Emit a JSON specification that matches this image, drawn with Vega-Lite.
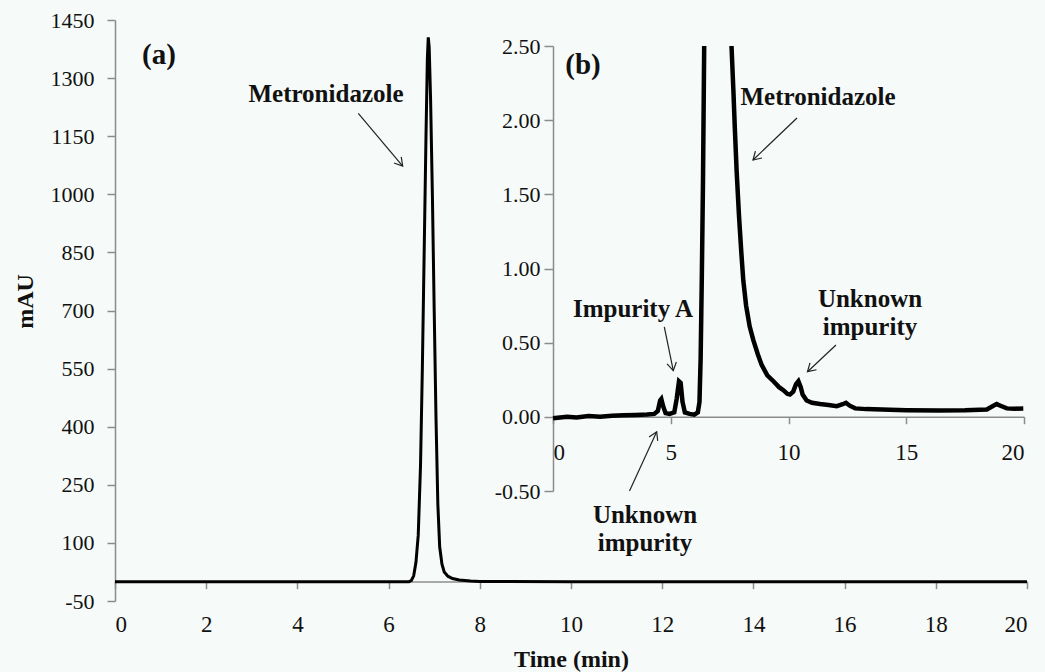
{
  "$schema": "https://vega.github.io/schema/vega-lite/v6.json",
  "width": 912,
  "height": 581,
  "autosize": {"type": "none"},
  "padding": {"left": 115, "top": 20, "right": 18, "bottom": 71},
  "background": "#f6faf8",
  "config": {
    "view": {"stroke": null},
    "font": "Liberation Serif",
    "axis": {
      "grid": false,
      "domainColor": "#8c8c8c",
      "tickColor": "#8c8c8c",
      "domainWidth": 1.5,
      "tickWidth": 1.5,
      "labelFont": "Liberation Serif",
      "labelColor": "#111111",
      "labelFontSize": 22,
      "titleFont": "Liberation Serif",
      "titleFontWeight": "bold",
      "titleFontSize": 24,
      "titleColor": "#111111"
    }
  },
  "datasets": {
    "main": [
      {"t": 0, "v": 0}, {"t": 1, "v": 0}, {"t": 2, "v": 0}, {"t": 3, "v": 0}, {"t": 4, "v": 0},
      {"t": 5, "v": 0}, {"t": 6, "v": 0}, {"t": 6.3, "v": 0}, {"t": 6.45, "v": 0},
      {"t": 6.5, "v": 3}, {"t": 6.55, "v": 15}, {"t": 6.6, "v": 50}, {"t": 6.65, "v": 120},
      {"t": 6.7, "v": 300}, {"t": 6.74, "v": 550}, {"t": 6.78, "v": 850}, {"t": 6.82, "v": 1150},
      {"t": 6.85, "v": 1350}, {"t": 6.87, "v": 1405}, {"t": 6.89, "v": 1380}, {"t": 6.92, "v": 1250},
      {"t": 6.96, "v": 1000}, {"t": 7.0, "v": 700}, {"t": 7.04, "v": 420}, {"t": 7.08, "v": 200},
      {"t": 7.12, "v": 90}, {"t": 7.17, "v": 45}, {"t": 7.22, "v": 25}, {"t": 7.3, "v": 14},
      {"t": 7.4, "v": 8}, {"t": 7.55, "v": 4}, {"t": 7.8, "v": 1.5}, {"t": 8.0, "v": 0.5},
      {"t": 10, "v": 0}, {"t": 12, "v": 0}, {"t": 14, "v": 0}, {"t": 16, "v": 0}, {"t": 18, "v": 0}, {"t": 20, "v": 0}
    ],
    "inset": [
      {"t": 0, "v": -0.01, "seg": 1}, {"t": 0.3, "v": -0.005, "seg": 1}, {"t": 0.6, "v": 0.0, "seg": 1},
      {"t": 1.0, "v": -0.005, "seg": 1}, {"t": 1.5, "v": 0.005, "seg": 1}, {"t": 2.0, "v": 0.0, "seg": 1},
      {"t": 2.5, "v": 0.008, "seg": 1}, {"t": 3.0, "v": 0.01, "seg": 1}, {"t": 3.5, "v": 0.012, "seg": 1},
      {"t": 4.0, "v": 0.015, "seg": 1}, {"t": 4.3, "v": 0.02, "seg": 1}, {"t": 4.45, "v": 0.04, "seg": 1},
      {"t": 4.55, "v": 0.11, "seg": 1}, {"t": 4.6, "v": 0.12, "seg": 1}, {"t": 4.68, "v": 0.07, "seg": 1},
      {"t": 4.78, "v": 0.025, "seg": 1}, {"t": 4.95, "v": 0.02, "seg": 1}, {"t": 5.15, "v": 0.03, "seg": 1},
      {"t": 5.25, "v": 0.12, "seg": 1}, {"t": 5.35, "v": 0.24, "seg": 1}, {"t": 5.42, "v": 0.23, "seg": 1},
      {"t": 5.5, "v": 0.1, "seg": 1}, {"t": 5.6, "v": 0.03, "seg": 1}, {"t": 5.8, "v": 0.02, "seg": 1},
      {"t": 6.0, "v": 0.015, "seg": 1}, {"t": 6.15, "v": 0.03, "seg": 1}, {"t": 6.22, "v": 0.1, "seg": 1},
      {"t": 6.27, "v": 0.4, "seg": 1}, {"t": 6.32, "v": 0.95, "seg": 1}, {"t": 6.37, "v": 1.6, "seg": 1},
      {"t": 6.42, "v": 2.5, "seg": 1},
      {"t": 7.58, "v": 2.5, "seg": 2}, {"t": 7.66, "v": 2.2, "seg": 2}, {"t": 7.72, "v": 1.95, "seg": 2},
      {"t": 7.8, "v": 1.65, "seg": 2}, {"t": 7.9, "v": 1.35, "seg": 2}, {"t": 8.0, "v": 1.1, "seg": 2},
      {"t": 8.08, "v": 0.92, "seg": 2}, {"t": 8.2, "v": 0.75, "seg": 2}, {"t": 8.35, "v": 0.61, "seg": 2},
      {"t": 8.5, "v": 0.52, "seg": 2}, {"t": 8.7, "v": 0.42, "seg": 2}, {"t": 8.86, "v": 0.35, "seg": 2},
      {"t": 9.1, "v": 0.28, "seg": 2}, {"t": 9.36, "v": 0.24, "seg": 2}, {"t": 9.6, "v": 0.2, "seg": 2},
      {"t": 9.78, "v": 0.18, "seg": 2}, {"t": 9.95, "v": 0.155, "seg": 2}, {"t": 10.06, "v": 0.15, "seg": 2},
      {"t": 10.2, "v": 0.17, "seg": 2}, {"t": 10.32, "v": 0.22, "seg": 2}, {"t": 10.42, "v": 0.24, "seg": 2},
      {"t": 10.52, "v": 0.2, "seg": 2}, {"t": 10.6, "v": 0.15, "seg": 2}, {"t": 10.77, "v": 0.11, "seg": 2},
      {"t": 11.0, "v": 0.095, "seg": 2}, {"t": 11.34, "v": 0.086, "seg": 2}, {"t": 11.7, "v": 0.08, "seg": 2},
      {"t": 12.05, "v": 0.072, "seg": 2}, {"t": 12.3, "v": 0.085, "seg": 2}, {"t": 12.44, "v": 0.095, "seg": 2},
      {"t": 12.6, "v": 0.075, "seg": 2}, {"t": 12.83, "v": 0.057, "seg": 2}, {"t": 13.3, "v": 0.052, "seg": 2},
      {"t": 14.3, "v": 0.047, "seg": 2}, {"t": 15.0, "v": 0.045, "seg": 2}, {"t": 16.43, "v": 0.043, "seg": 2},
      {"t": 17.5, "v": 0.045, "seg": 2}, {"t": 18.42, "v": 0.05, "seg": 2}, {"t": 18.7, "v": 0.075, "seg": 2},
      {"t": 18.84, "v": 0.086, "seg": 2}, {"t": 19.0, "v": 0.075, "seg": 2}, {"t": 19.27, "v": 0.057, "seg": 2},
      {"t": 19.6, "v": 0.055, "seg": 2}, {"t": 19.97, "v": 0.057, "seg": 2}
    ],
    "labels": [
      {"t": 0.965, "v": 1359.6, "text": "(a)", "kind": "panel"},
      {"t": 10.263, "v": 1333.8, "text": "(b)", "kind": "panel"},
      {"t": 4.627, "v": 1259, "text": "Metronidazole", "kind": "note"},
      {"t": 15.417, "v": 1251, "text": "Metronidazole", "kind": "note"},
      {"t": 11.36, "v": 705, "text": "Impurity A", "kind": "note"},
      {"t": 11.623, "v": 172, "text": "Unknown\nimpurity", "kind": "note"},
      {"t": 16.557, "v": 729.6, "text": "Unknown\nimpurity", "kind": "note"}
    ],
    "arrows": [
      {"t": 5.335, "v": 1209.1, "t2": 6.309, "v2": 1073, "ang": 49.9},
      {"t": 14.956, "v": 1197, "t2": 13.991, "v2": 1088.5, "ang": 136.3},
      {"t": 12.046, "v": 658, "t2": 12.243, "v2": 544.5, "ang": 78.4},
      {"t": 11.283, "v": 234, "t2": 11.879, "v2": 387, "ang": 294.6},
      {"t": 15.811, "v": 611, "t2": 15.186, "v2": 542, "ang": 136.9}
    ]
  },
  "layer": [
    {
      "layer": [
        {
          "data": {"name": "main"},
          "mark": {"type": "line", "color": "#000000", "strokeWidth": 3},
          "encoding": {
            "x": {
              "field": "t", "type": "quantitative",
              "scale": {"domain": [0, 20], "nice": false, "zero": false},
              "axis": {
                "title": "Time (min)",
                "values": [0, 2, 4, 6, 8, 10, 12, 14, 16, 18, 20],
                "offset": -19.4,
                "tickSize": 7,
                "labelFontSize": 23,
                "labelPadding": 25,
                "titlePadding": 11
              }
            },
            "y": {
              "field": "v", "type": "quantitative",
              "scale": {"domain": [-50, 1450], "nice": false, "zero": false},
              "axis": {
                "title": "mAU",
                "values": [-50, 100, 250, 400, 550, 700, 850, 1000, 1150, 1300, 1450],
                "labelExpr": "replace(format(datum.value, 'd'), '\u2212', '-')",
                "tickSize": 8,
                "labelPadding": 13,
                "titleX": -90,
                "titleY": 281,
                "titleAlign": "center",
                "titleBaseline": "middle"
              }
            }
          }
        },
        {
          "data": {"name": "arrows"},
          "mark": {"type": "rule", "color": "#222222", "strokeWidth": 1.2},
          "encoding": {
            "x": {"field": "t", "type": "quantitative"},
            "y": {"field": "v", "type": "quantitative"},
            "x2": {"field": "t2"},
            "y2": {"field": "v2"}
          }
        },
        {
          "data": {"name": "arrows"},
          "mark": {
            "type": "point",
            "shape": "M -1 -0.6 L 0 0 L -1 0.6",
            "filled": false,
            "color": "#222222",
            "strokeWidth": 1.2,
            "size": 250,
            "opacity": 1
          },
          "encoding": {
            "x": {"field": "t2", "type": "quantitative"},
            "y": {"field": "v2", "type": "quantitative"},
            "angle": {"field": "ang", "type": "quantitative", "scale": null}
          }
        },
        {
          "data": {"name": "labels"},
          "transform": [{"filter": "datum.kind === 'note'"}],
          "mark": {
            "type": "text",
            "font": "Liberation Serif",
            "fontWeight": "bold",
            "fontSize": 25,
            "color": "#111111",
            "align": "center",
            "baseline": "middle",
            "lineBreak": "\n",
            "lineHeight": 28
          },
          "encoding": {
            "x": {"field": "t", "type": "quantitative"},
            "y": {"field": "v", "type": "quantitative"},
            "text": {"field": "text"}
          }
        },
        {
          "data": {"name": "labels"},
          "transform": [{"filter": "datum.kind === 'panel'"}],
          "mark": {
            "type": "text",
            "font": "Liberation Serif",
            "fontWeight": "bold",
            "fontSize": 29,
            "color": "#111111",
            "align": "center",
            "baseline": "middle"
          },
          "encoding": {
            "x": {"field": "t", "type": "quantitative"},
            "y": {"field": "v", "type": "quantitative"},
            "text": {"field": "text"}
          }
        }
      ]
    },
    {
      "data": {"name": "inset"},
      "mark": {"type": "line", "color": "#000000", "strokeWidth": 4.5},
      "encoding": {
        "x": {
          "field": "t", "type": "quantitative",
          "scale": {"domain": [0, 20], "range": [438, 909], "nice": false, "zero": false},
          "axis": {
            "orient": "bottom",
            "title": null,
            "values": [0, 5, 10, 15, 20],
            "offset": -184.3,
            "tickSize": 7,
            "labelFontSize": 23,
            "labelPadding": 18
          }
        },
        "y": {
          "field": "v", "type": "quantitative",
          "scale": {"domain": [-0.5, 2.5], "range": [471, 26], "nice": false, "zero": false},
          "axis": {
            "orient": "left",
            "title": null,
            "values": [-0.5, 0, 0.5, 1, 1.5, 2, 2.5],
            "labelExpr": "replace(format(datum.value, '.2f'), '\u2212', '-')",
            "offset": -438,
            "tickSize": 9,
            "labelPadding": 4
          }
        },
        "detail": {"field": "seg", "type": "nominal"}
      }
    }
  ],
  "resolve": {
    "scale": {"x": "independent", "y": "independent"},
    "axis": {"x": "independent", "y": "independent"}
  }
}
